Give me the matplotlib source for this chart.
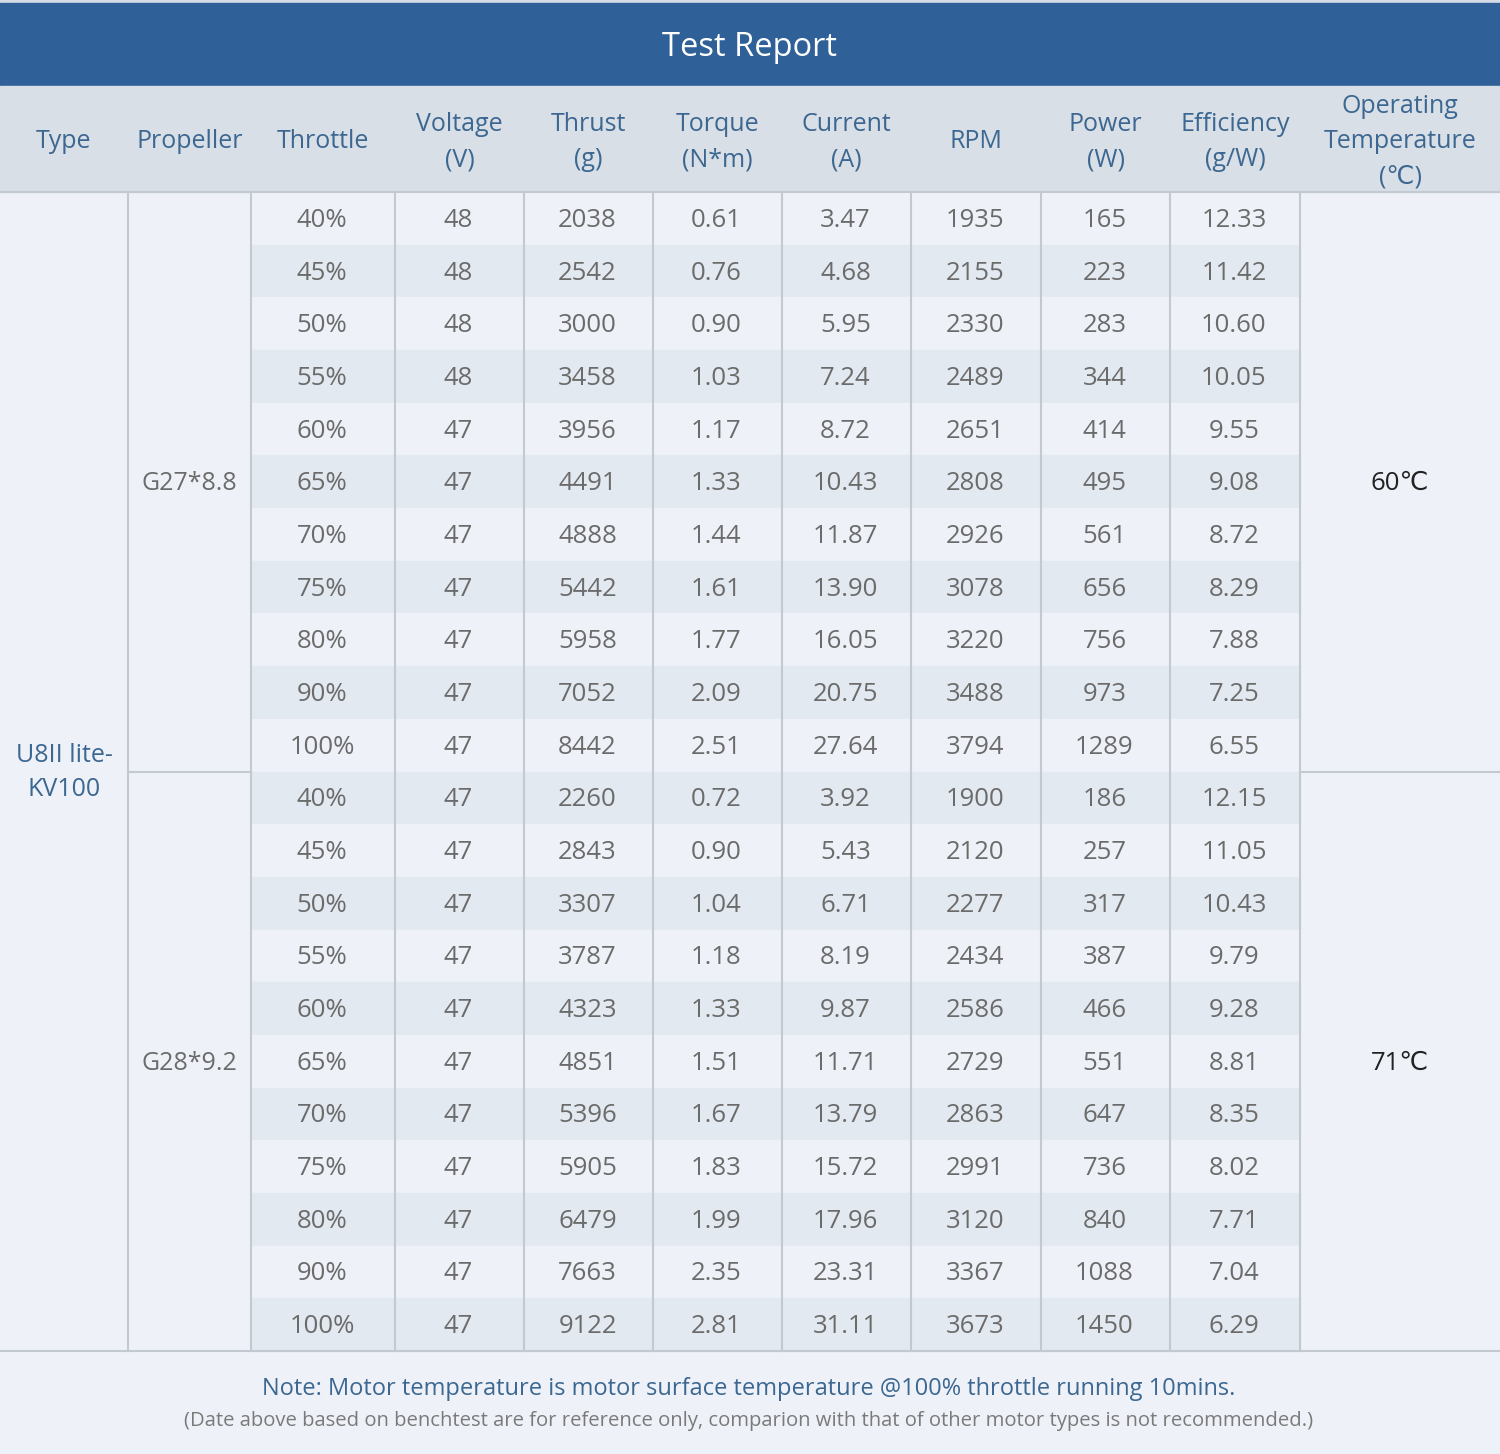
import matplotlib
matplotlib.use("Agg")
import matplotlib.pyplot as plt
from matplotlib.patches import Rectangle

plt.rcParams['font.family'] = ['Open Sans', 'DejaVu Sans']

title = "Test Report"
headers = ["Type", "Propeller", "Throttle", "Voltage\n(V)", "Thrust\n(g)", "Torque\n(N*m)",
           "Current\n(A)", "RPM", "Power\n(W)", "Efficiency\n(g/W)", "Operating\nTemperature\n(℃)"]
motor_type = "U8II lite-\nKV100"
propellers = ["G27*8.8", "G28*9.2"]
temperatures = ["60℃", "71℃"]

throttle = ["40%", "45%", "50%", "55%", "60%", "65%", "70%", "75%", "80%", "90%", "100%"]

voltage_1 = [48, 48, 48, 48, 47, 47, 47, 47, 47, 47, 47]
thrust_1 = [2038, 2542, 3000, 3458, 3956, 4491, 4888, 5442, 5958, 7052, 8442]
torque_1 = [0.61, 0.76, 0.90, 1.03, 1.17, 1.33, 1.44, 1.61, 1.77, 2.09, 2.51]
current_1 = [3.47, 4.68, 5.95, 7.24, 8.72, 10.43, 11.87, 13.90, 16.05, 20.75, 27.64]
rpm_1 = [1935, 2155, 2330, 2489, 2651, 2808, 2926, 3078, 3220, 3488, 3794]
power_1 = [165, 223, 283, 344, 414, 495, 561, 656, 756, 973, 1289]
efficiency_1 = [12.33, 11.42, 10.60, 10.05, 9.55, 9.08, 8.72, 8.29, 7.88, 7.25, 6.55]

voltage_2 = [47, 47, 47, 47, 47, 47, 47, 47, 47, 47, 47]
thrust_2 = [2260, 2843, 3307, 3787, 4323, 4851, 5396, 5905, 6479, 7663, 9122]
torque_2 = [0.72, 0.90, 1.04, 1.18, 1.33, 1.51, 1.67, 1.83, 1.99, 2.35, 2.81]
current_2 = [3.92, 5.43, 6.71, 8.19, 9.87, 11.71, 13.79, 15.72, 17.96, 23.31, 31.11]
rpm_2 = [1900, 2120, 2277, 2434, 2586, 2729, 2863, 2991, 3120, 3367, 3673]
power_2 = [186, 257, 317, 387, 466, 551, 647, 736, 840, 1088, 1450]
efficiency_2 = [12.15, 11.05, 10.43, 9.79, 9.28, 8.81, 8.35, 8.02, 7.71, 7.04, 6.29]

note = "Note: Motor temperature is motor surface temperature @100% throttle running 10mins."
disclaimer = "(Date above based on benchtest are for reference only, comparion with that of other motor types is not recommended.)"

# ---------------- layout ----------------
W, H = 1500, 1454
col_edges = [0, 128, 251, 395, 524, 653, 782, 911, 1041, 1170, 1300, 1500]
title_top, title_bot = 3, 86
head_bot = 192
body_bot = 1351

C_TITLE = "#2f6198"
C_HEAD = "#d9dfe6"
C_LIGHT = "#eef2f8"
C_DARK = "#e3e9f0"
C_LINE = "#c3c9d0"
C_HTEXT = "#3c6791"
C_TEXT = "#6b6b6b"

fig = plt.figure(figsize=(W / 100, H / 100), dpi=100)
ax = fig.add_axes([0, 0, 1, 1])
ax.set_xlim(0, W)
ax.set_ylim(H, 0)
ax.axis("off")

ax.add_patch(Rectangle((0, 0), W, H, color=C_LIGHT, zorder=0))
ax.add_patch(Rectangle((0, 0), W, title_top, color="#d6dde6", zorder=1))
ax.add_patch(Rectangle((0, title_top), W, title_bot - title_top, color=C_TITLE, zorder=1))
ax.add_patch(Rectangle((0, title_bot), W, head_bot - title_bot, color=C_HEAD, zorder=1))
ax.text(W / 2, (title_top + title_bot) / 2 + 3, title, color="white", fontsize=23.5,
        ha="center", va="center", zorder=5)

head_mid = (title_bot + head_bot) / 2
for i, h in enumerate(headers):
    cx = (col_edges[i] + col_edges[i + 1]) / 2
    ax.text(cx, head_mid + 3, h, color=C_HTEXT, fontsize=18, ha="center", va="center",
            linespacing=1.55, zorder=5)

groups = [
    (voltage_1, thrust_1, torque_1, current_1, rpm_1, power_1, efficiency_1),
    (voltage_2, thrust_2, torque_2, current_2, rpm_2, power_2, efficiency_2),
]
n_rows = sum(len(throttle) for _ in groups)
row_h = (body_bot - head_bot) / n_rows

r = 0
for g, cols in enumerate(groups):
    g_top = head_bot + r * row_h
    for k in range(len(throttle)):
        y0 = head_bot + r * row_h
        ym = y0 + row_h / 2 + 2
        color = C_LIGHT if r % 2 == 0 else C_DARK
        ax.add_patch(Rectangle((col_edges[2], y0), col_edges[10] - col_edges[2], row_h,
                               color=color, zorder=1))
        vals = [throttle[k], f"{cols[0][k]}", f"{cols[1][k]}", f"{cols[2][k]:.2f}",
                f"{cols[3][k]:.2f}", f"{cols[4][k]}", f"{cols[5][k]}", f"{cols[6][k]:.2f}"]
        for j, v in enumerate(vals):
            cx = (col_edges[j + 2] + col_edges[j + 3]) / 2 - 1
            ax.text(cx, ym, v, color=C_TEXT, fontsize=18.5, ha="center", va="center", zorder=5)
        r += 1
    g_bot = head_bot + r * row_h
    g_mid = (g_top + g_bot) / 2 + 2
    ax.text((col_edges[1] + col_edges[2]) / 2, g_mid, propellers[g], color=C_TEXT,
            fontsize=18, ha="center", va="center", zorder=5)
    ax.text((col_edges[10] + col_edges[11]) / 2, g_mid, temperatures[g], color="#222222",
            fontsize=18.5, ha="center", va="center", zorder=5)
    if g < len(groups) - 1:
        ax.plot([col_edges[1], col_edges[2]], [g_bot, g_bot], color=C_LINE, lw=1.5, zorder=4)
        ax.plot([col_edges[10], col_edges[11]], [g_bot, g_bot], color=C_LINE, lw=1.5, zorder=4)

ax.text((col_edges[0] + col_edges[1]) / 2, (head_bot + body_bot) / 2 + 1, motor_type,
        color=C_HTEXT, fontsize=18, ha="center", va="center", linespacing=1.45, zorder=5)

# grid lines
for x in col_edges[1:-1]:
    ax.plot([x, x], [head_bot, body_bot], color=C_LINE, lw=1.5, zorder=4)
ax.plot([0, W], [head_bot, head_bot], color=C_LINE, lw=1.5, zorder=4)
ax.plot([0, W], [body_bot, body_bot], color=C_LINE, lw=1.5, zorder=4)

ax.text(W / 2 - 1, 1389, note, color=C_HTEXT, fontsize=17, ha="center", va="center", zorder=5)
ax.text(W / 2 - 1, 1421, disclaimer, color="#7a7a7a", fontsize=14.6, ha="center", va="center",
        zorder=5)

fig.savefig("out.png", dpi=100)
